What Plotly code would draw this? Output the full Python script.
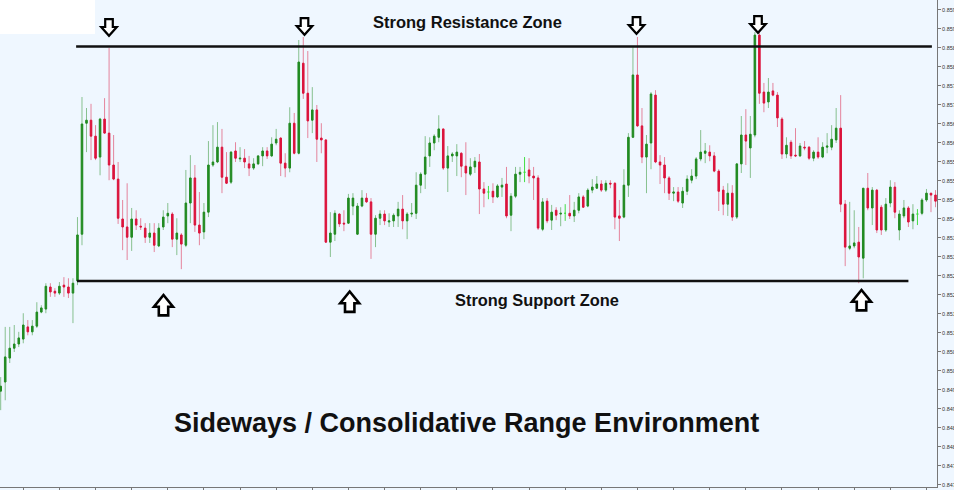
import plotly.graph_objects as go

# ---------------- data (price candles) ----------------
opens = [
    0.84947, 0.84971, 0.85034, 0.85060, 0.85071, 0.85084, 0.85116, 0.85103, 0.85118, 0.85155,
    0.85163, 0.85221, 0.85210, 0.85205, 0.85226, 0.85221, 0.85205, 0.85237, 0.85360, 0.85652,
    0.85660, 0.85618, 0.85563, 0.85663, 0.85626, 0.85542, 0.85505, 0.85400, 0.85379, 0.85352,
    0.85400, 0.85381, 0.85376, 0.85352, 0.85363, 0.85329, 0.85379, 0.85408, 0.85413, 0.85347,
    0.85358, 0.85331, 0.85442, 0.85508, 0.85384, 0.85366, 0.85418, 0.85542, 0.85550, 0.85589,
    0.85510, 0.85497, 0.85579, 0.85558, 0.85560, 0.85545, 0.85534, 0.85545, 0.85566, 0.85579,
    0.85566, 0.85600, 0.85613, 0.85547, 0.85534, 0.85652, 0.85573, 0.85810, 0.85731, 0.85660,
    0.85687, 0.85613, 0.85608, 0.85339, 0.85360, 0.85413, 0.85389, 0.85389, 0.85434, 0.85360,
    0.85434, 0.85455, 0.85445, 0.85360, 0.85402, 0.85413, 0.85392, 0.85395, 0.85408, 0.85426,
    0.85395, 0.85413, 0.85415, 0.85489, 0.85518, 0.85566, 0.85600, 0.85615, 0.85637, 0.85534,
    0.85566, 0.85566, 0.85573, 0.85539, 0.85518, 0.85537, 0.85550, 0.85479, 0.85471, 0.85473,
    0.85458, 0.85484, 0.85492, 0.85410, 0.85460, 0.85518, 0.85523, 0.85529, 0.85513, 0.85508,
    0.85373, 0.85447, 0.85397, 0.85423, 0.85413, 0.85415, 0.85415, 0.85408, 0.85423, 0.85458,
    0.85434, 0.85476, 0.85481, 0.85492, 0.85476, 0.85494, 0.85494, 0.85408, 0.85405, 0.85489,
    0.85615, 0.85779, 0.85645, 0.85563, 0.85600, 0.85726, 0.85550, 0.85542, 0.85508, 0.85468,
    0.85471, 0.85442, 0.85473, 0.85502, 0.85513, 0.85558, 0.85573, 0.85576, 0.85566, 0.85526,
    0.85476, 0.85439, 0.85468, 0.85405, 0.85545, 0.85621, 0.85587, 0.85621, 0.85884, 0.85734,
    0.85708, 0.85737, 0.85726, 0.85663, 0.85571, 0.85602, 0.85568, 0.85566, 0.85589, 0.85589,
    0.85560, 0.85576, 0.85563, 0.85589, 0.85589, 0.85608, 0.85639, 0.85439, 0.85323, 0.85329,
    0.85339, 0.85297, 0.85481, 0.85429, 0.85476, 0.85431, 0.85371, 0.85442, 0.85484, 0.85371,
    0.85408, 0.85429, 0.85395, 0.85413, 0.85415, 0.85450, 0.85468, 0.85463,
]
highs = [
    0.84984, 0.85116, 0.85116, 0.85121, 0.85103, 0.85152, 0.85134, 0.85134, 0.85181, 0.85173,
    0.85231, 0.85231, 0.85218, 0.85234, 0.85247, 0.85244, 0.85244, 0.85405, 0.85721, 0.85692,
    0.85703, 0.85647, 0.85666, 0.85718, 0.85850, 0.85621, 0.85550, 0.85450, 0.85494, 0.85429,
    0.85423, 0.85402, 0.85389, 0.85389, 0.85389, 0.85389, 0.85423, 0.85442, 0.85418, 0.85402,
    0.85363, 0.85529, 0.85568, 0.85542, 0.85471, 0.85442, 0.85605, 0.85647, 0.85655, 0.85637,
    0.85576, 0.85579, 0.85602, 0.85589, 0.85584, 0.85566, 0.85560, 0.85568, 0.85589, 0.85589,
    0.85615, 0.85637, 0.85615, 0.85573, 0.85694, 0.85679, 0.85871, 0.85879, 0.85842, 0.85747,
    0.85700, 0.85652, 0.85610, 0.85418, 0.85423, 0.85415, 0.85423, 0.85466, 0.85468, 0.85442,
    0.85476, 0.85468, 0.85455, 0.85410, 0.85423, 0.85423, 0.85415, 0.85415, 0.85445, 0.85463,
    0.85418, 0.85442, 0.85523, 0.85523, 0.85618, 0.85615, 0.85623, 0.85673, 0.85637, 0.85592,
    0.85576, 0.85597, 0.85576, 0.85602, 0.85560, 0.85563, 0.85571, 0.85497, 0.85487, 0.85494,
    0.85492, 0.85508, 0.85537, 0.85468, 0.85537, 0.85537, 0.85563, 0.85560, 0.85537, 0.85515,
    0.85455, 0.85455, 0.85437, 0.85431, 0.85431, 0.85439, 0.85463, 0.85445, 0.85468, 0.85463,
    0.85481, 0.85505, 0.85513, 0.85502, 0.85502, 0.85502, 0.85497, 0.85450, 0.85531, 0.85626,
    0.85852, 0.85879, 0.85692, 0.85621, 0.85734, 0.85739, 0.85568, 0.85563, 0.85513, 0.85484,
    0.85484, 0.85484, 0.85515, 0.85531, 0.85563, 0.85634, 0.85600, 0.85594, 0.85576, 0.85531,
    0.85487, 0.85494, 0.85489, 0.85547, 0.85671, 0.85689, 0.85671, 0.85892, 0.85897, 0.85758,
    0.85771, 0.85758, 0.85734, 0.85668, 0.85615, 0.85608, 0.85639, 0.85600, 0.85605, 0.85592,
    0.85581, 0.85615, 0.85602, 0.85626, 0.85647, 0.85692, 0.85726, 0.85450, 0.85445, 0.85423,
    0.85379, 0.85481, 0.85521, 0.85484, 0.85479, 0.85437, 0.85455, 0.85502, 0.85497, 0.85423,
    0.85450, 0.85434, 0.85439, 0.85426, 0.85455, 0.85479, 0.85468, 0.85476,
]
lows = [
    0.84897, 0.84923, 0.85021, 0.85050, 0.85063, 0.85073, 0.85094, 0.85094, 0.85113, 0.85152,
    0.85152, 0.85195, 0.85195, 0.85200, 0.85195, 0.85192, 0.85126, 0.85226, 0.85331, 0.85576,
    0.85555, 0.85555, 0.85515, 0.85624, 0.85502, 0.85502, 0.85387, 0.85318, 0.85292, 0.85316,
    0.85371, 0.85371, 0.85337, 0.85337, 0.85313, 0.85326, 0.85371, 0.85389, 0.85326, 0.85305,
    0.85268, 0.85326, 0.85389, 0.85366, 0.85331, 0.85347, 0.85405, 0.85537, 0.85547, 0.85468,
    0.85492, 0.85492, 0.85550, 0.85550, 0.85534, 0.85513, 0.85529, 0.85542, 0.85539, 0.85558,
    0.85563, 0.85594, 0.85513, 0.85510, 0.85523, 0.85570, 0.85570, 0.85716, 0.85613, 0.85626,
    0.85550, 0.85573, 0.85337, 0.85300, 0.85342, 0.85379, 0.85368, 0.85387, 0.85410, 0.85358,
    0.85431, 0.85442, 0.85295, 0.85326, 0.85384, 0.85384, 0.85379, 0.85379, 0.85379, 0.85373,
    0.85347, 0.85405, 0.85400, 0.85468, 0.85479, 0.85537, 0.85581, 0.85602, 0.85529, 0.85471,
    0.85550, 0.85513, 0.85510, 0.85463, 0.85513, 0.85521, 0.85413, 0.85431, 0.85452, 0.85442,
    0.85455, 0.85458, 0.85402, 0.85368, 0.85455, 0.85497, 0.85497, 0.85494, 0.85450, 0.85371,
    0.85368, 0.85389, 0.85371, 0.85397, 0.85381, 0.85395, 0.85400, 0.85392, 0.85415, 0.85429,
    0.85431, 0.85468, 0.85479, 0.85471, 0.85471, 0.85481, 0.85373, 0.85342, 0.85402, 0.85458,
    0.85613, 0.85642, 0.85547, 0.85468, 0.85531, 0.85547, 0.85492, 0.85468, 0.85450, 0.85447,
    0.85442, 0.85429, 0.85463, 0.85494, 0.85505, 0.85552, 0.85547, 0.85552, 0.85523, 0.85421,
    0.85410, 0.85408, 0.85395, 0.85400, 0.85521, 0.85542, 0.85508, 0.85615, 0.85703, 0.85681,
    0.85692, 0.85723, 0.85642, 0.85558, 0.85560, 0.85558, 0.85563, 0.85563, 0.85581, 0.85555,
    0.85552, 0.85558, 0.85560, 0.85573, 0.85581, 0.85600, 0.85418, 0.85276, 0.85318, 0.85323,
    0.85231, 0.85244, 0.85423, 0.85384, 0.85363, 0.85358, 0.85366, 0.85431, 0.85402, 0.85344,
    0.85402, 0.85379, 0.85373, 0.85384, 0.85410, 0.85445, 0.85418, 0.85431,
]
closes = [
    0.84960, 0.85037, 0.85060, 0.85071, 0.85087, 0.85121, 0.85103, 0.85118, 0.85155, 0.85166,
    0.85223, 0.85208, 0.85205, 0.85223, 0.85221, 0.85205, 0.85231, 0.85358, 0.85650, 0.85660,
    0.85618, 0.85560, 0.85663, 0.85626, 0.85542, 0.85505, 0.85402, 0.85379, 0.85352, 0.85400,
    0.85384, 0.85379, 0.85352, 0.85363, 0.85331, 0.85376, 0.85405, 0.85415, 0.85347, 0.85363,
    0.85334, 0.85442, 0.85508, 0.85384, 0.85363, 0.85418, 0.85542, 0.85550, 0.85589, 0.85510,
    0.85494, 0.85576, 0.85560, 0.85560, 0.85550, 0.85534, 0.85545, 0.85566, 0.85579, 0.85566,
    0.85597, 0.85610, 0.85547, 0.85534, 0.85652, 0.85573, 0.85813, 0.85731, 0.85658, 0.85687,
    0.85610, 0.85608, 0.85339, 0.85363, 0.85415, 0.85387, 0.85387, 0.85455, 0.85455, 0.85434,
    0.85455, 0.85445, 0.85360, 0.85402, 0.85413, 0.85395, 0.85395, 0.85410, 0.85426, 0.85395,
    0.85413, 0.85415, 0.85489, 0.85518, 0.85563, 0.85600, 0.85618, 0.85637, 0.85534, 0.85566,
    0.85571, 0.85576, 0.85539, 0.85521, 0.85537, 0.85552, 0.85479, 0.85468, 0.85471, 0.85458,
    0.85487, 0.85489, 0.85408, 0.85460, 0.85518, 0.85523, 0.85523, 0.85513, 0.85508, 0.85376,
    0.85445, 0.85395, 0.85418, 0.85410, 0.85415, 0.85415, 0.85408, 0.85423, 0.85458, 0.85431,
    0.85476, 0.85484, 0.85492, 0.85476, 0.85494, 0.85492, 0.85405, 0.85402, 0.85489, 0.85615,
    0.85779, 0.85645, 0.85563, 0.85597, 0.85729, 0.85550, 0.85542, 0.85508, 0.85468, 0.85471,
    0.85447, 0.85473, 0.85505, 0.85513, 0.85558, 0.85576, 0.85579, 0.85566, 0.85526, 0.85473,
    0.85439, 0.85468, 0.85405, 0.85545, 0.85621, 0.85605, 0.85623, 0.85884, 0.85731, 0.85705,
    0.85734, 0.85726, 0.85666, 0.85571, 0.85594, 0.85566, 0.85566, 0.85592, 0.85587, 0.85560,
    0.85576, 0.85563, 0.85589, 0.85592, 0.85610, 0.85639, 0.85439, 0.85326, 0.85329, 0.85337,
    0.85300, 0.85481, 0.85429, 0.85476, 0.85371, 0.85371, 0.85439, 0.85484, 0.85418, 0.85413,
    0.85429, 0.85392, 0.85413, 0.85413, 0.85450, 0.85468, 0.85463, 0.85447,
]

resistance_level = 0.85854
support_level = 0.85237

y_ticks = [0.8595, 0.8590, 0.8585, 0.8580, 0.8575, 0.8570, 0.8565, 0.8560, 0.8555,
           0.8550, 0.8545, 0.8540, 0.8535, 0.8530, 0.8525, 0.8520, 0.8515, 0.8510,
           0.8505, 0.8500, 0.8495, 0.8490, 0.8485, 0.8480, 0.8475, 0.8470]
y_tick_labels = ["%.4f" % v for v in y_ticks]

title_text = "Sideways / Consolidative Range Environment"
resistance_text = "Strong Resistance Zone"
support_text = "Strong Support Zone"

# ---------------- build ----------------
n = len(opens)
idx = list(range(n))
reg = [i for i in idx if opens[i] != closes[i]]
doj = [i for i in idx if opens[i] == closes[i]]

GREEN = "#228B22"
RED = "#DC143C"
BG = "#EFF7FF"

fig = go.Figure()

# wicks
fig.add_trace(go.Ohlc(
    x=[i for i in reg], open=[opens[i] for i in reg], high=[highs[i] for i in reg],
    low=[lows[i] for i in reg], close=[closes[i] for i in reg],
    tickwidth=0,
    increasing=dict(line=dict(color="rgba(34,139,34,0.5)", width=1)),
    decreasing=dict(line=dict(color="rgba(220,20,60,0.5)", width=1)),
    hoverinfo="skip", showlegend=False,
))
# bodies
fig.add_trace(go.Candlestick(
    x=[i for i in reg], open=[opens[i] for i in reg],
    high=[max(opens[i], closes[i]) for i in reg],
    low=[min(opens[i], closes[i]) for i in reg],
    close=[closes[i] for i in reg],
    increasing=dict(line=dict(color=GREEN, width=1), fillcolor=GREEN),
    decreasing=dict(line=dict(color=RED, width=1), fillcolor=RED),
    hoverinfo="skip", showlegend=False,
))
# doji candles
fig.add_trace(go.Candlestick(
    x=doj, open=[opens[i] for i in doj], high=[highs[i] for i in doj],
    low=[lows[i] for i in doj], close=[closes[i] for i in doj],
    increasing=dict(line=dict(color="#44DD44", width=1), fillcolor="#44DD44"),
    decreasing=dict(line=dict(color="#44DD44", width=1), fillcolor="#44DD44"),
    hoverinfo="skip", showlegend=False,
))

PW, PH = 937.0, 487.0


def px(x):
    return x / PW


def py(y):
    return 1 - y / PH


shapes = []
# white box top-left
shapes.append(dict(type="rect", xref="paper", yref="paper", x0=0, x1=px(95), y0=py(34), y1=1,
                   fillcolor="white", line=dict(width=0), layer="below"))
# resistance / support lines
shapes.append(dict(type="line", xref="x", yref="y", x0=16.7, x1=206.2,
                   y0=resistance_level, y1=resistance_level, line=dict(color="#111111", width=2.5)))
shapes.append(dict(type="line", xref="x", yref="y", x0=16.9, x1=201.0,
                   y0=support_level, y1=support_level, line=dict(color="#111111", width=2.5)))

down_path = "M -3.8,8.3 L 3.8,8.3 L 3.8,0.5 L 7.8,0.5 L 0,-8.3 L -7.8,0.5 L -3.8,0.5 Z"
up_path = "M -4.7,-10.4 L 4.7,-10.4 L 4.7,-1.7 L 9.5,-1.7 L 0,10 L -9.5,-1.7 L -4.7,-1.7 Z"
down_arrows = [(109, 27.5), (304.5, 26.5), (636.5, 25.5), (758, 24.5)]
up_arrows = [(163.5, 305), (349.7, 301.5), (861.5, 300)]
for (ax, ay) in down_arrows:
    shapes.append(dict(type="path", xref="paper", yref="paper", xsizemode="pixel", ysizemode="pixel",
                       xanchor=px(ax), yanchor=py(ay), path=down_path,
                       fillcolor="white", line=dict(color="black", width=2.2)))
for (ax, ay) in up_arrows:
    shapes.append(dict(type="path", xref="paper", yref="paper", xsizemode="pixel", ysizemode="pixel",
                       xanchor=px(ax), yanchor=py(ay), path=up_path,
                       fillcolor="white", line=dict(color="black", width=2.6)))

FONT = "Arial, Liberation Sans, sans-serif"
annotations = [
    dict(text="<b>%s</b>" % resistance_text, xref="paper", yref="paper", x=px(467), y=py(22),
         xanchor="center", yanchor="middle", showarrow=False,
         font=dict(family=FONT, size=16.5, color="#111111")),
    dict(text="<b>%s</b>" % support_text, xref="paper", yref="paper", x=px(537), y=py(300),
         xanchor="center", yanchor="middle", showarrow=False,
         font=dict(family=FONT, size=16.4, color="#111111")),
    dict(text="<b>%s</b>" % title_text, xref="paper", yref="paper", x=px(466.5), y=py(422.5),
         xanchor="center", yanchor="middle", showarrow=False,
         font=dict(family=FONT, size=27, color="#111111")),
]

fig.update_layout(
    width=954, height=490,
    margin=dict(l=0, r=17, t=0, b=3, pad=0, autoexpand=False),
    plot_bgcolor=BG, paper_bgcolor=BG,
    showlegend=False,
    boxgap=0.5,
    shapes=shapes, annotations=annotations,
    hovermode=False,
)
fig.update_xaxes(
    range=[-0.155, 207.33], rangeslider=dict(visible=False), automargin=False,
    showgrid=False, zeroline=False, showline=True, linecolor="#777777", linewidth=1,
    ticks="outside", ticklen=3, tickcolor="#777777",
    tickvals=list(range(5, 208, 8)), showticklabels=False,
)
fig.update_yaxes(
    side="right", range=[0.846947, 0.859763], automargin=False,
    showgrid=False, zeroline=False, showline=True, linecolor="#777777", linewidth=1,
    ticks="outside", ticklen=3, tickcolor="#777777",
    tickvals=y_ticks, ticktext=y_tick_labels,
    tickfont=dict(family="Liberation Sans, Arial, sans-serif", size=5.5, color="#333333"),
)

fig.write_html(
    "out.html",
    config={"displayModeBar": False},
    post_script="document.body.style.margin='0px';document.body.style.overflow='hidden';",
)
